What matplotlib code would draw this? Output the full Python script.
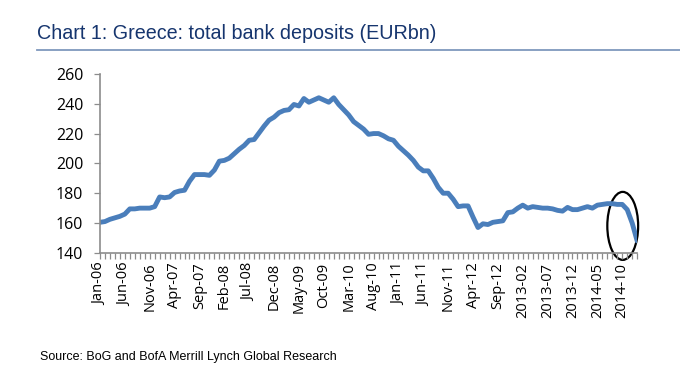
import matplotlib
matplotlib.use("Agg")
import matplotlib.pyplot as plt
from matplotlib.patches import Ellipse
from matplotlib.lines import Line2D

# Greece total bank deposits, monthly Jan-06 .. Jan-15 (EURbn)
deposits = [160.5, 161, 162.5, 163.5, 164.5, 166, 169.5, 169.5, 170, 170,
            170, 171, 177.5, 177, 177.5, 180.5, 181.5, 182, 188, 192.5,
            192.5, 192.5, 192, 195.5, 201.5, 202, 203.5, 206.5, 209.5, 212,
            215.5, 216, 220.5, 225, 229, 231, 234, 235.5, 236, 239.5,
            238.5, 243.5, 241, 242.5, 244, 242.5, 241, 244, 239.5, 236,
            232.5, 228, 225.5, 223, 219.5, 220, 220, 218.5, 216.5, 215.5,
            211.5, 208.5, 205.5, 202, 197.5, 195, 195, 190, 184, 180,
            180, 176, 171, 171.5, 171.5, 164, 157, 159.5, 159, 160.5,
            161, 161.5, 167, 167.5, 170, 172, 170, 171, 170.5, 170,
            170, 169.5, 168.5, 168, 170.5, 169, 169, 170, 171, 170,
            172, 172.5, 173, 173, 172.5, 172.5, 169, 160, 148]

tick_labels = ["Jan-06", "Jun-06", "Nov-06", "Apr-07", "Sep-07", "Feb-08",
               "Jul-08", "Dec-08", "May-09", "Oct-09", "Mar-10", "Aug-10",
               "Jan-11", "Jun-11", "Nov-11", "Apr-12", "Sep-12", "2013-02",
               "2013-07", "2013-12", "2014-05", "2014-10"]

x = list(range(len(deposits)))

fig = plt.figure(figsize=(6.8, 3.78), dpi=100)
ax = fig.add_axes([0.147, 0.331, 0.79, 0.4735])

ax.plot(x, deposits, color="#4a7ebb", lw=3.5, solid_capstyle="round",
        solid_joinstyle="round")

ax.set_xlim(0, len(deposits) - 1)
ax.set_ylim(140, 260)
ax.set_yticks(range(140, 261, 20))

labels = [""] * len(deposits)
for k, lab in enumerate(tick_labels):
    labels[k * 5] = lab
ax.set_xticks(x)
ax.set_xticklabels(labels, rotation=90, fontsize=10.5, family="Open Sans")
for t in ax.get_yticklabels():
    t.set_fontsize(11.5)
    t.set_family("Open Sans")

for s in ["top", "right"]:
    ax.spines[s].set_visible(False)
for s in ["left", "bottom"]:
    ax.spines[s].set_color("#8c8c8c")
    ax.spines[s].set_linewidth(1.2)
ax.tick_params(axis="both", colors="#8c8c8c", labelcolor="black",
               direction="out", length=4, width=0.9)
ax.tick_params(axis="y", pad=8)
ax.tick_params(axis="x", pad=3)

# highlight the last drop
ell = Ellipse((105.1, 158.1), 6.2, 45.6, fill=False, ec="black", lw=1.6,
              clip_on=False)
ax.add_patch(ell)

fig.text(0.054, 0.912, "Chart 1: Greece: total bank deposits (EURbn)",
         fontsize=14.2, color="#16356e", va="center",
         family=["Liberation Sans", "DejaVu Sans"])
fig.add_artist(Line2D([0.054, 1.0], [0.868, 0.868], color="#7f98bd", lw=1.3))

fig.text(0.059, 0.056, "Source: BoG and BofA Merrill Lynch Global Research",
         fontsize=9, color="black", va="center",
         family=["Liberation Sans", "DejaVu Sans"])

fig.savefig("out.png", dpi=100)
